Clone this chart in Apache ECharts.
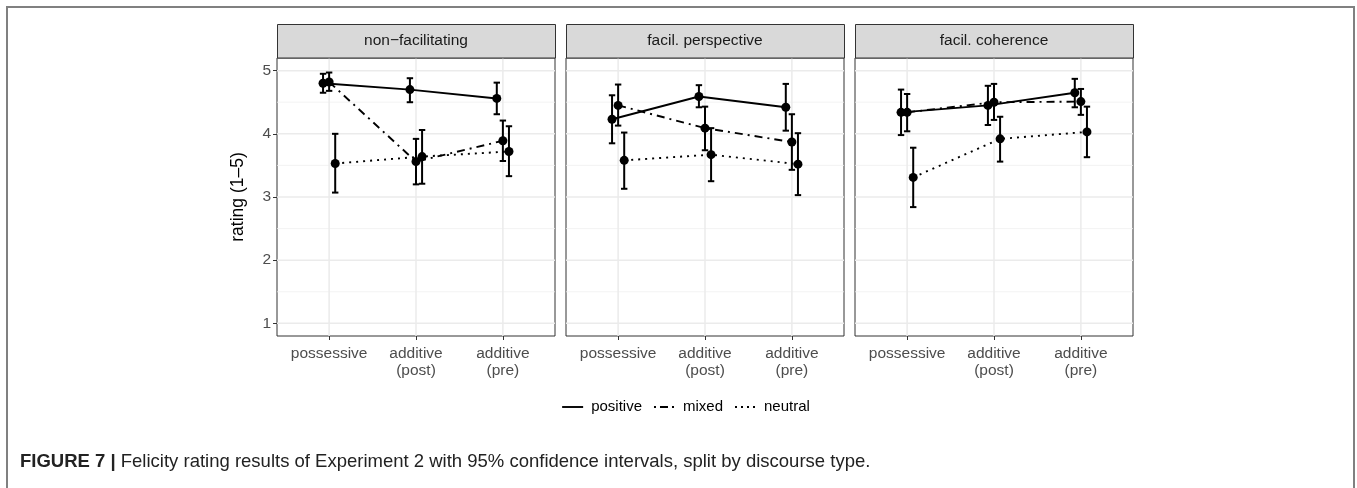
<!DOCTYPE html>
<html><head><meta charset="utf-8">
<script src="https://cdn.jsdelivr.net/npm/echarts@6/dist/echarts.min.js"></script>
<style>html,body{margin:0;padding:0;background:#fff}#c{width:1357px;height:488px}</style>
</head><body><div id="c"></div>
<script>
// ---------- data ----------
const panels = ['non\u2212facilitating', 'facil. perspective', 'facil. coherence'];
const categories = ['possessive', 'additive\n(post)', 'additive\n(pre)'];
const seriesNames = ['positive', 'mixed', 'neutral'];
const yTicks = [1, 2, 3, 4, 5];
const yMinorGrid = [1.5, 2.5, 3.5, 4.5];
const xTicks = [1, 2, 3];

// rows = panels, columns = categories
const positiveMean = [[4.80, 4.70, 4.56], [4.23, 4.59, 4.42], [4.34, 4.45, 4.65]];
const positiveLow  = [[4.65, 4.50, 4.31], [3.85, 4.42, 4.05], [3.98, 4.14, 4.42]];
const positiveHigh = [[4.95, 4.88, 4.81], [4.61, 4.77, 4.79], [4.70, 4.76, 4.87]];
const mixedMean    = [[4.82, 3.56, 3.89], [4.45, 4.09, 3.87], [4.34, 4.50, 4.51]];
const mixedLow     = [[4.68, 3.20, 3.57], [4.13, 3.74, 3.43], [4.04, 4.22, 4.30]];
const mixedHigh    = [[4.97, 3.92, 4.21], [4.78, 4.43, 4.31], [4.63, 4.79, 4.71]];
const neutralMean  = [[3.53, 3.64, 3.72], [3.58, 3.67, 3.52], [3.31, 3.92, 4.03]];
const neutralLow   = [[3.07, 3.21, 3.33], [3.13, 3.25, 3.03], [2.84, 3.56, 3.63]];
const neutralHigh  = [[4.00, 4.06, 4.12], [4.02, 4.09, 4.01], [3.78, 4.27, 4.43]];

// ---------- styling / layout ----------
const FONT = "'Liberation Sans', Arial, Helvetica, sans-serif";
const means = [positiveMean, mixedMean, neutralMean];
const lows = [positiveLow, mixedLow, neutralLow];
const highs = [positiveHigh, mixedHigh, neutralHigh];
const dodge = [-0.07, 0, 0.07];
const lineTypes = ['solid', [8, 5, 2, 5], [2, 5]];
const legendDash = ['solid', [2, 4, 8, 4], [2, 4]];
const gridLeft = [277, 566, 855];
const gridTop = 58, gridW = 278, gridH = 278;

const grids = [], xAxes = [], yAxes = [], series = [], graphics = [];

panels.forEach((p, i) => {
  grids.push({left: gridLeft[i], top: gridTop, width: gridW, height: gridH,
    show: true, borderColor: '#333333', borderWidth: 1, backgroundColor: 'transparent'});
  xAxes.push({type: 'value', gridIndex: i, min: 0.4, max: 3.6,
    axisLine: {show: false}, splitLine: {show: false},
    axisTick: {show: true, customValues: xTicks, length: 4, lineStyle: {color: '#333333', width: 1}},
    axisLabel: {customValues: xTicks, formatter: v => categories[Math.round(v) - 1],
      color: '#4d4d4d', fontSize: 15.5, lineHeight: 17, margin: 9, fontFamily: FONT}});
  yAxes.push({type: 'value', gridIndex: i, min: 0.8, max: 5.2,
    axisLine: {show: false}, splitLine: {show: false},
    axisTick: {show: i === 0, customValues: yTicks, length: 4, lineStyle: {color: '#333333', width: 1}},
    axisLabel: {show: i === 0, customValues: yTicks, color: '#4d4d4d', fontSize: 15.5, margin: 6, fontFamily: FONT},
    name: i === 0 ? 'rating (1\u20135)' : '', nameLocation: 'middle', nameGap: 30, nameRotate: 90,
    nameTextStyle: {fontSize: 17.5, color: '#000', fontFamily: FONT}});

  // grid lines
  series.push({type: 'custom', xAxisIndex: i, yAxisIndex: i, silent: true, z: 1,
    data: yMinorGrid.map(v => [2, v]),
    renderItem: (params, api) => {
      const cs = params.coordSys; const y = api.coord([2, api.value(1)])[1];
      return {type: 'line', shape: {x1: cs.x, y1: y, x2: cs.x + cs.width, y2: y}, style: {stroke: '#f0f0f0', lineWidth: 0.8}};
    }});
  series.push({type: 'custom', xAxisIndex: i, yAxisIndex: i, silent: true, z: 1,
    data: yTicks.map(v => [2, v]),
    renderItem: (params, api) => {
      const cs = params.coordSys; const y = api.coord([2, api.value(1)])[1];
      return {type: 'line', shape: {x1: cs.x, y1: y, x2: cs.x + cs.width, y2: y}, style: {stroke: '#ebebeb', lineWidth: 1.5}};
    }});
  series.push({type: 'custom', xAxisIndex: i, yAxisIndex: i, silent: true, z: 1,
    data: xTicks.map(v => [v, 3]),
    renderItem: (params, api) => {
      const cs = params.coordSys; const x = api.coord([api.value(0), 3])[0];
      return {type: 'line', shape: {x1: x, y1: cs.y, x2: x, y2: cs.y + cs.height}, style: {stroke: '#ebebeb', lineWidth: 1.5}};
    }});

  seriesNames.forEach((s, k) => {
    // error bars
    series.push({type: 'custom', name: s, xAxisIndex: i, yAxisIndex: i, z: 3, silent: true,
      encode: {x: 0, y: [1, 2]},
      data: xTicks.map((xv, c) => [xv + dodge[k], lows[k][i][c], highs[k][i][c]]),
      renderItem: (params, api) => {
        const a = api.coord([api.value(0), api.value(1)]);
        const b = api.coord([api.value(0), api.value(2)]);
        const hw = 3.2, st = {stroke: '#000', lineWidth: 2};
        return {type: 'group', children: [
          {type: 'line', shape: {x1: a[0], y1: a[1], x2: b[0], y2: b[1]}, style: st},
          {type: 'line', shape: {x1: a[0] - hw, y1: a[1], x2: a[0] + hw, y2: a[1]}, style: st},
          {type: 'line', shape: {x1: b[0] - hw, y1: b[1], x2: b[0] + hw, y2: b[1]}, style: st}
        ]};
      }});
    // lines + points
    series.push({type: 'line', name: s, xAxisIndex: i, yAxisIndex: i, z: 4,
      data: xTicks.map((xv, c) => [xv + dodge[k], means[k][i][c]]),
      symbol: 'circle', symbolSize: 9, showSymbol: true, animation: false,
      itemStyle: {color: '#000', borderWidth: 0},
      lineStyle: {color: '#000', width: 1.9, type: lineTypes[k]}});
  });

  // strip
  graphics.push({type: 'rect', shape: {x: gridLeft[i] + 0.5, y: 24.5, width: gridW, height: 33.5},
    style: {fill: '#d9d9d9', stroke: '#333333', lineWidth: 1}, z: 10});
  graphics.push({type: 'text', x: gridLeft[i] + gridW / 2, y: 41,
    style: {text: p, font: '15.5px ' + FONT, fill: '#1a1a1a', textAlign: 'center', textVerticalAlign: 'middle'}, z: 11});
});

// legend
const legFont = '15px ' + FONT;
const ctx = document.createElement('canvas').getContext('2d'); ctx.font = legFont;
const sampleW = 21, gapAfterSample = 8, gapBetween = 12;
let total = 0;
seriesNames.forEach((s, k) => { total += sampleW + gapAfterSample + ctx.measureText(s).width + (k < 2 ? gapBetween : 0); });
let lx = 686 - total / 2;
const legY = 407;
seriesNames.forEach((s, k) => {
  const lt = legendDash[k];
  graphics.push({type: 'line', shape: {x1: lx, y1: legY, x2: lx + sampleW, y2: legY},
    style: {stroke: '#000', lineWidth: 1.9, lineDash: lt === 'solid' ? null : lt}});
  lx += sampleW + gapAfterSample;
  graphics.push({type: 'text', x: lx, y: legY, style: {text: s, font: legFont, fill: '#000', textVerticalAlign: 'middle'}});
  lx += ctx.measureText(s).width + gapBetween;
});

// caption
const CAPFONT = "'Liberation Sans', Arial, sans-serif";
graphics.push({type: 'text', x: 20, y: 462, style: {
  text: '{b|FIGURE 7 |} Felicity rating results of Experiment 2 with 95% confidence intervals, split by discourse type.',
  font: '18.5px ' + CAPFONT, fill: '#222', textVerticalAlign: 'middle',
  rich: {b: {fontWeight: 'bold', fontSize: 18.5, fontFamily: CAPFONT, fill: '#222'}}}});

// frame
graphics.push({type: 'rect', shape: {x: 7, y: 7, width: 1347, height: 520},
  style: {fill: 'none', stroke: '#808080', lineWidth: 2}, z: 20});

const chart = echarts.init(document.getElementById('c'), null, {renderer: 'canvas'});
chart.setOption({animation: false, backgroundColor: '#fff', grid: grids, xAxis: xAxes, yAxis: yAxes,
  series: series, graphic: graphics, tooltip: {show: false}});
</script></body></html>
